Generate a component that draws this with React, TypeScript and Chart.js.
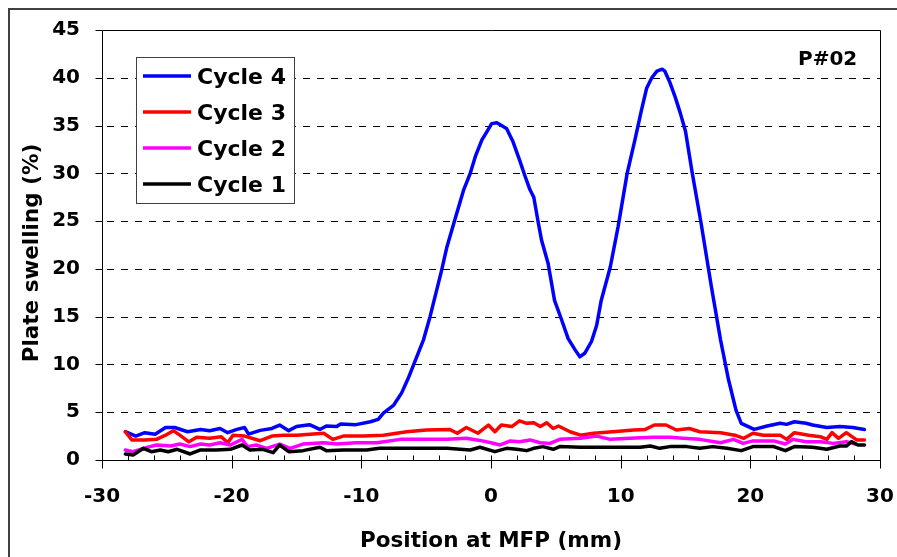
import React, { useEffect, useRef } from 'react';
import { Chart, registerables } from 'chart.js';

Chart.register(...registerables);

// ---------- data ----------
const SERIES_LABELS = ['Cycle 4', 'Cycle 3', 'Cycle 2', 'Cycle 1'];
const SERIES_COLORS = ['#0000FF', '#FF0000', '#FF00FF', '#000000'];

const cycle4X = [-28.2, -27.4, -26.7, -25.9, -25.1, -24.4, -23.4, -22.4, -21.7, -20.9, -20.3, -19.6, -19.0, -18.7, -17.8, -16.9, -16.3, -15.6, -15.0, -14.0, -13.2, -12.7, -11.9, -11.6, -10.4, -9.3, -8.7, -8.3, -7.5, -6.9, -6.4, -5.2, -4.7, -3.8, -3.4, -2.8, -2.1, -1.6, -1.2, -0.7, -0.3, 0.05, 0.45, 1.2, 1.7, 2.2, 2.6, 3.0, 3.3, 3.65, 3.9, 4.4, 4.9, 5.45, 5.95, 6.5, 6.85, 7.25, 7.75, 8.15, 8.5, 9.2, 9.8, 10.5, 11.1, 11.6, 12.0, 12.4, 12.8, 13.2, 13.4, 13.8, 14.2, 14.6, 15.0, 15.5, 16.2, 17.0, 17.7, 18.3, 18.9, 19.3, 20.3, 21.3, 22.3, 22.8, 23.4, 24.3, 24.8, 25.9, 26.9, 27.9, 28.8];
const cycle4Y = [2.96, 2.5, 2.86, 2.7, 3.4, 3.4, 2.96, 3.2, 3.07, 3.3, 2.86, 3.2, 3.4, 2.7, 3.1, 3.3, 3.66, 3.07, 3.5, 3.7, 3.2, 3.56, 3.5, 3.77, 3.7, 4.0, 4.26, 4.9, 5.75, 7.0, 8.5, 12.6, 15.0, 19.9, 22.3, 25.1, 28.3, 30.0, 31.8, 33.5, 34.4, 35.2, 35.3, 34.7, 33.3, 31.4, 29.8, 28.3, 27.5, 24.8, 23.0, 20.6, 16.7, 14.65, 12.7, 11.5, 10.8, 11.2, 12.4, 14.1, 16.7, 20.2, 24.4, 30.0, 33.5, 36.6, 38.9, 40.0, 40.7, 40.9, 40.7, 39.5, 38.0, 36.3, 34.4, 30.2, 24.8, 18.1, 12.6, 8.5, 5.2, 3.84, 3.2, 3.56, 3.84, 3.73, 4.0, 3.84, 3.66, 3.4, 3.5, 3.4, 3.2];

const cycle3X = [-28.2, -27.7, -26.7, -25.8, -25.1, -24.5, -24.0, -23.3, -22.7, -21.7, -20.8, -20.3, -19.9, -19.0, -17.8, -16.9, -16.0, -15.0, -12.9, -12.2, -11.4, -9.8, -8.3, -6.5, -5.0, -3.2, -2.6, -1.9, -1.0, -0.2, 0.3, 0.8, 1.6, 2.2, 2.75, 3.3, 3.8, 4.3, 4.8, 5.2, 6.1, 6.9, 7.9, 9.4, 11.0, 11.9, 12.6, 13.5, 14.3, 15.3, 16.1, 17.7, 18.8, 19.5, 20.2, 21.0, 22.3, 22.8, 23.4, 24.5, 25.4, 25.9, 26.3, 26.8, 27.4, 28.2, 28.8];
const cycle3Y = [2.96, 2.1, 2.1, 2.16, 2.6, 3.07, 2.6, 1.9, 2.37, 2.27, 2.44, 1.8, 2.6, 2.5, 2.02, 2.5, 2.6, 2.6, 2.8, 2.16, 2.5, 2.5, 2.6, 2.96, 3.14, 3.2, 2.8, 3.4, 2.8, 3.66, 2.96, 3.66, 3.5, 4.1, 3.84, 3.9, 3.5, 3.9, 3.3, 3.56, 2.96, 2.6, 2.8, 2.96, 3.14, 3.2, 3.66, 3.66, 3.14, 3.3, 2.96, 2.86, 2.6, 2.27, 2.8, 2.6, 2.6, 2.16, 2.86, 2.6, 2.44, 2.16, 2.86, 2.27, 2.86, 2.1, 2.1];

const cycle2X = [-28.2, -27.6, -26.8, -25.8, -24.7, -24.0, -23.2, -22.4, -21.7, -20.9, -20.1, -19.2, -18.8, -18.1, -17.3, -16.3, -15.5, -14.5, -12.9, -11.9, -10.4, -8.8, -7.0, -5.2, -3.4, -1.9, -0.85, 0, 0.7, 1.5, 2.2, 3.0, 3.8, 4.55, 5.3, 6.9, 8.15, 9.2, 10.7, 12.5, 13.8, 14.8, 16.1, 17.7, 18.7, 19.45, 20.2, 21.8, 22.7, 23.3, 24.3, 25.4, 26.4, 27.4, 28.1];
const cycle2Y = [1.05, 0.87, 1.22, 1.57, 1.46, 1.67, 1.4, 1.67, 1.57, 1.8, 1.57, 2.16, 1.4, 1.57, 1.22, 1.67, 1.22, 1.67, 1.8, 1.67, 1.8, 1.8, 2.16, 2.16, 2.16, 2.27, 2.05, 1.8, 1.57, 2.0, 1.92, 2.1, 1.8, 1.74, 2.16, 2.27, 2.5, 2.16, 2.27, 2.37, 2.37, 2.27, 2.16, 1.8, 2.16, 1.74, 2.0, 2.0, 1.67, 2.16, 1.92, 1.92, 1.74, 1.92, 1.67];

const cycle1X = [-28.2, -27.6, -26.8, -26.2, -25.5, -24.9, -24.2, -23.2, -22.4, -21.2, -20.1, -19.2, -18.6, -17.6, -16.8, -16.3, -15.6, -14.5, -13.2, -12.7, -11.4, -9.6, -8.6, -7.0, -5.2, -3.4, -1.6, -0.85, 0.3, 1.2, 2.0, 2.75, 3.3, 4.0, 4.8, 5.3, 6.9, 9.4, 11.5, 12.3, 13.0, 13.8, 15.1, 16.1, 17.1, 18.2, 19.3, 20.2, 21.8, 22.7, 23.4, 24.8, 25.9, 26.9, 27.4, 27.8, 28.3, 28.8];
const cycle1Y = [0.63, 0.52, 1.22, 0.87, 1.05, 0.87, 1.12, 0.63, 1.05, 1.05, 1.12, 1.57, 1.05, 1.12, 0.77, 1.57, 0.87, 0.98, 1.33, 0.98, 1.05, 1.05, 1.22, 1.22, 1.22, 1.22, 1.05, 1.33, 0.87, 1.22, 1.12, 0.98, 1.22, 1.4, 1.12, 1.4, 1.33, 1.33, 1.33, 1.46, 1.22, 1.4, 1.4, 1.22, 1.4, 1.22, 0.98, 1.4, 1.4, 0.98, 1.4, 1.33, 1.12, 1.46, 1.46, 1.92, 1.57, 1.57];

const Y_TICKS = [0, 5, 10, 15, 20, 25, 30, 35, 40, 45];
const X_MAJOR_TICKS = [-30, -20, -10, 0, 10, 20, 30];
const X_MINOR_TICKS = [-28, -26, -24, -22, -18, -16, -14, -12, -8, -6, -4, -2, 2, 4, 6, 8, 12, 14, 16, 18, 22, 24, 26, 28];

const X_TITLE = 'Position at MFP (mm)';
const Y_TITLE = 'Plate swelling (%)';
const PANEL_LABEL = 'P#02';

const FONT = '"DejaVu Sans", sans-serif';

if (typeof document !== 'undefined') {
  document.documentElement.style.overflow = 'hidden';
  document.body.style.overflow = 'hidden';
  document.body.style.margin = '0';
}

const toPoints = (xs: number[], ys: number[]) => xs.map((x, i) => ({ x, y: ys[i] }));

export default function App() {
  const ref = useRef<HTMLCanvasElement>(null);

  useEffect(() => {
    const canvas = ref.current;
    if (!canvas) return;

    const seriesData = [
      toPoints(cycle4X, cycle4Y),
      toPoints(cycle3X, cycle3Y),
      toPoints(cycle2X, cycle2Y),
      toPoints(cycle1X, cycle1Y),
    ];

    const decor = {
      id: 'decor',
      beforeDatasetsDraw(chart: any) {
        const { ctx, chartArea: a, scales } = chart;
        const y = scales.y;
        ctx.save();
        ctx.strokeStyle = '#000';
        ctx.lineWidth = 1;
        ctx.setLineDash([7, 7]);
        ctx.lineDashOffset = 9;
        for (const v of Y_TICKS) {
          if (v === Y_TICKS[0] || v === Y_TICKS[Y_TICKS.length - 1]) continue;
          const py = Math.round(y.getPixelForValue(v)) + 0.5;
          ctx.beginPath();
          ctx.moveTo(a.left, py);
          ctx.lineTo(a.right, py);
          ctx.stroke();
        }
        ctx.restore();
      },
      afterDatasetsDraw(chart: any) {
        const { ctx, chartArea: a, scales } = chart;
        const x = scales.x;
        const y = scales.y;
        const L = Math.round(a.left) + 0.5;
        const R = Math.round(a.right) + 0.5;
        const T = Math.round(a.top) + 0.5;
        const B = Math.round(a.bottom) + 0.5;
        ctx.save();
        ctx.setLineDash([]);
        ctx.strokeStyle = '#000';
        ctx.lineWidth = 1;
        // frame
        ctx.beginPath();
        ctx.moveTo(L, T);
        ctx.lineTo(R, T);
        ctx.lineTo(R, B);
        ctx.lineTo(L, B);
        ctx.closePath();
        ctx.stroke();
        // y ticks (outward)
        for (const v of Y_TICKS) {
          const py = Math.round(y.getPixelForValue(v)) + 0.5;
          ctx.beginPath();
          ctx.moveTo(L - 7, py);
          ctx.lineTo(L, py);
          ctx.stroke();
        }
        // x minor ticks (inward)
        for (const v of X_MINOR_TICKS) {
          const px = Math.round(x.getPixelForValue(v)) + 0.5;
          ctx.beginPath();
          ctx.moveTo(px, B - 5);
          ctx.lineTo(px, B);
          ctx.stroke();
        }
        // x major ticks (cross)
        for (const v of X_MAJOR_TICKS) {
          const px = Math.round(x.getPixelForValue(v)) + 0.5;
          ctx.beginPath();
          ctx.moveTo(px, B - 5);
          ctx.lineTo(px, B + 8);
          ctx.stroke();
        }

        // legend
        const lx = a.left + 34;
        const ly = a.top + 27;
        ctx.fillStyle = '#fff';
        ctx.fillRect(Math.round(lx), Math.round(ly), 158, 146);
        ctx.strokeStyle = '#404040';
        ctx.lineWidth = 1;
        ctx.strokeRect(Math.round(lx) + 0.5, Math.round(ly) + 0.5, 158, 146);
        ctx.font = `bold 22px ${FONT}`;
        ctx.textAlign = 'left';
        ctx.textBaseline = 'alphabetic';
        chart.data.datasets.forEach((ds: any, i: number) => {
          const rowY = Math.round(ly) + 19 + i * 36;
          ctx.strokeStyle = ds.borderColor;
          ctx.lineWidth = 3.5;
          ctx.beginPath();
          ctx.moveTo(Math.round(lx) + 7, rowY);
          ctx.lineTo(Math.round(lx) + 55, rowY);
          ctx.stroke();
          ctx.fillStyle = '#000';
          ctx.fillText(ds.label, Math.round(lx) + 61, rowY + 8);
        });

        // panel label
        ctx.font = `bold 20px ${FONT}`;
        ctx.fillStyle = '#000';
        ctx.textAlign = 'left';
        ctx.fillText(PANEL_LABEL, a.right - 82, a.top + 35);

        // axis titles
        ctx.font = `bold 21.5px ${FONT}`;
        ctx.textAlign = 'center';
        ctx.fillText(X_TITLE, (a.left + a.right) / 2, a.bottom + 87);
        ctx.save();
        ctx.translate(28, (a.top + a.bottom) / 2 + 8);
        ctx.rotate(-Math.PI / 2);
        ctx.fillText(Y_TITLE, 0, 0);
        ctx.restore();
        ctx.restore();
      },
    };

    const chart = new Chart(canvas, {
      type: 'line',
      data: {
        datasets: SERIES_LABELS.map((label, i) => ({
          label,
          data: seriesData[i],
          borderColor: SERIES_COLORS[i],
          backgroundColor: SERIES_COLORS[i],
          borderWidth: 3.5,
          pointRadius: 0,
          pointHoverRadius: 0,
          tension: 0,
          fill: false,
          order: SERIES_LABELS.length - 1 - i,
          borderJoinStyle: 'round',
          borderCapStyle: 'round',
        })),
      },
      options: {
        animation: false,
        responsive: false,
        devicePixelRatio: 1,
        layout: { padding: { left: 0, right: 17, top: 20, bottom: 0 } },
        plugins: {
          legend: { display: false },
          tooltip: { enabled: false },
          title: { display: false },
        },
        scales: {
          x: {
            type: 'linear',
            min: -30,
            max: 30,
            ticks: {
              stepSize: 10,
              padding: 25,
              maxRotation: 0,
              autoSkip: false,
              color: '#000',
              font: { family: FONT, size: 20, weight: 'bold' },
            },
            grid: { display: false, drawTicks: false },
            border: { display: false },
            afterFit: (s: any) => {
              s.height = 97;
              s.paddingLeft = 0;
              s.paddingRight = 0;
            },
          },
          y: {
            type: 'linear',
            min: 0,
            max: 45,
            ticks: {
              stepSize: 5,
              padding: 22,
              color: '#000',
              font: { family: FONT, size: 20, weight: 'bold' },
            },
            grid: { display: false, drawTicks: false },
            border: { display: false },
            afterFit: (s: any) => {
              s.width = 92;
              s.paddingTop = 0;
              s.paddingBottom = 0;
            },
          },
        },
      },
      plugins: [decor],
    } as any);

    return () => chart.destroy();
  }, []);

  return (
    <div
      style={{
        position: 'absolute',
        left: 8,
        top: 8,
        width: 887,
        height: 547,
        borderLeft: '2px solid #404040',
        borderTop: '2px solid #404040',
        background: '#fff',
      }}
    >
      <canvas ref={ref} width={887} height={547} style={{ display: 'block', width: 887, height: 547 }} />
    </div>
  );
}
